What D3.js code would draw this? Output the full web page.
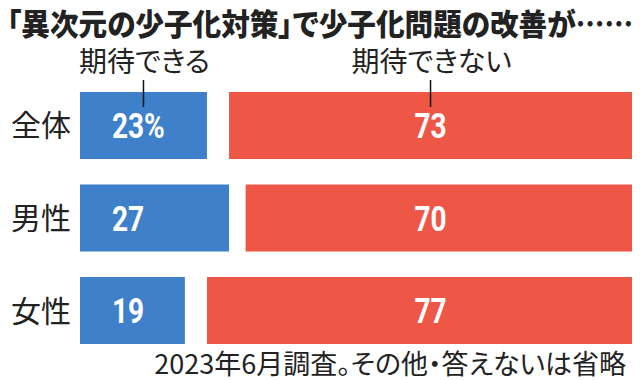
<!DOCTYPE html>
<html>
<head>
<meta charset="utf-8">
<script src="https://cdn.jsdelivr.net/npm/d3@7"></script>
<style>
  body { margin: 0; background: #fff; }
  svg { display: block; }
  text.jp { font-feature-settings: "palt"; }
</style>
</head>
<body>
<svg id="chart"></svg>
<script>
// data
const categories = ['全体', '男性', '女性'];
const expectYes = [23, 27, 19];   // 期待できる
const expectNo = [73, 70, 77];    // 期待できない
const seriesNames = ['期待できる', '期待できない'];
const title = '「異次元の少子化対策」で少子化問題の改善が……';
const note = '2023年6月調査。その他・答えないは省略';

const width = 640;
const height = 380;
const blue = '#3f80cb';
const red = '#ee5746';
const jp = '"Noto Sans CJK JP", "Noto Sans", sans-serif';
const numFont = 'Roboto, "Liberation Sans", sans-serif';
const squeeze = 0.8; // condensed look of the figures

const svg = d3.select('#chart')
  .attr('width', width)
  .attr('height', height);

// scales
const x = d3.scaleLinear().domain([0, 100]).range([80, 632]);
const y = d3.scaleBand()
  .domain(categories)
  .range([92, 344])
  .paddingInner(0.2757)
  .paddingOuter(0);

const rows = categories.map((c, i) => ({ cat: c, yes: expectYes[i], no: expectNo[i], i }));

// title
svg.append('text')
  .attr('class', 'jp')
  .attr('x', 7)
  .attr('y', 35)
  .attr('font-family', jp)
  .attr('font-weight', 900)
  .attr('font-size', 30)
  .attr('fill', '#222')
  .attr('textLength', 626)
  .attr('lengthAdjust', 'spacingAndGlyphs')
  .text(title);

// bars: "yes" from the left, "no" ends at 100 (gap = others)
svg.selectAll('rect.yes')
  .data(rows)
  .join('rect')
  .attr('class', 'yes')
  .attr('x', x(0))
  .attr('y', d => y(d.cat))
  .attr('width', d => x(d.yes) - x(0))
  .attr('height', y.bandwidth())
  .attr('fill', blue);

svg.selectAll('rect.no')
  .data(rows)
  .join('rect')
  .attr('class', 'no')
  .attr('x', d => x(100 - d.no))
  .attr('y', d => y(d.cat))
  .attr('width', d => x(100) - x(100 - d.no))
  .attr('height', y.bandwidth())
  .attr('fill', red);

// category labels
svg.selectAll('text.cat')
  .data(rows)
  .join('text')
  .attr('class', 'cat jp')
  .attr('x', 71)
  .attr('y', d => y(d.cat) + y.bandwidth() / 2 + 11)
  .attr('text-anchor', 'end')
  .attr('font-family', jp)
  .attr('font-size', 30)
  .attr('fill', '#222')
  .text(d => d.cat);

// value labels (fixed columns, like the original)
const first = rows[0];
const noCenter = (x(100 - first.no) + x(100)) / 2;
const yesCenter = (x(0) + x(first.yes)) / 2;

svg.selectAll('text.yesval')
  .data(rows)
  .join('text')
  .attr('class', 'yesval')
  .attr('transform', d => `translate(${x(0) + 32},${y(d.cat) + y.bandwidth() / 2 + 12.5}) scale(${squeeze},1)`)
  .attr('font-family', numFont)
  .attr('font-weight', 700)
  .attr('font-size', 35)
  .attr('fill', '#fff')
  .text(d => d.i === 0 ? d.yes + '%' : d.yes);

svg.selectAll('text.noval')
  .data(rows)
  .join('text')
  .attr('class', 'noval')
  .attr('transform', d => `translate(${noCenter},${y(d.cat) + y.bandwidth() / 2 + 12.5}) scale(${squeeze},1)`)
  .attr('text-anchor', 'middle')
  .attr('font-family', numFont)
  .attr('font-weight', 700)
  .attr('font-size', 35)
  .attr('fill', '#fff')
  .text(d => d.no);

// legend labels with leader lines into the first row
const legend = [
  { name: seriesNames[0], cx: yesCenter },
  { name: seriesNames[1], cx: noCenter }
];

svg.selectAll('line.leader')
  .data(legend)
  .join('line')
  .attr('class', 'leader')
  .attr('x1', d => d.cx)
  .attr('x2', d => d.cx)
  .attr('y1', 80)
  .attr('y2', 107)
  .attr('stroke', '#111')
  .attr('stroke-width', 1.5);

svg.selectAll('text.legend')
  .data(legend)
  .join('text')
  .attr('class', 'legend jp')
  .attr('x', d => d.cx + 1)
  .attr('y', 72)
  .attr('text-anchor', 'middle')
  .attr('font-family', jp)
  .attr('font-size', 28)
  .attr('fill', '#222')
  .text(d => d.name);

// footnote
svg.append('text')
  .attr('class', 'jp')
  .attr('x', 626)
  .attr('y', 374)
  .attr('text-anchor', 'end')
  .attr('font-family', jp)
  .attr('font-size', 27)
  .attr('fill', '#222')
  .text(note);
</script>
</body>
</html>
